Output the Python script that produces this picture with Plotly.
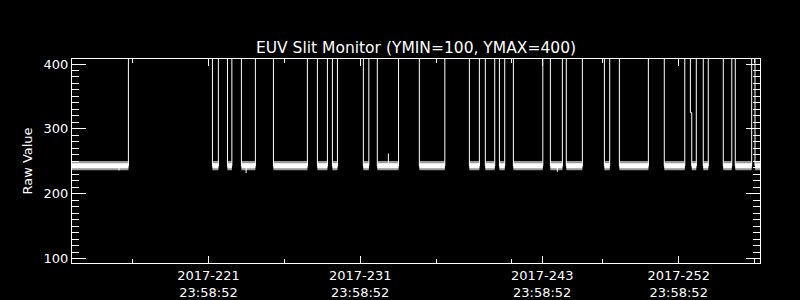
import plotly.graph_objects as go

# ---------------- data (day-of-year 2017) ----------------
# periods where the monitor reads the nominal (in-range) value
low_start = [212.00, 221.26, 222.25, 223.17, 225.28, 228.18, 229.17, 231.21, 232.13,
             234.90, 238.20, 239.25, 240.18, 241.10, 243.54, 244.59, 247.10, 248.09,
             251.05, 252.86, 253.62, 254.94, 255.73, 257.03]
low_end = [215.72, 221.65, 222.54, 224.09, 227.52, 228.84, 229.50, 231.57, 233.53,
           236.58, 238.86, 239.87, 240.53, 243.04, 244.33, 245.65, 247.45, 250.00,
           252.40, 253.16, 253.95, 255.50, 256.81, 257.36]
level_value = 243          # typical in-range raw value
sat_value = 1000           # off-scale (above YMAX) raw value
core_lo, core_hi = 239.5, 247   # dense noise band
fuzz_lo, fuzz_hi = 236.5, 250.5 # outer noise excursions
# intermediate reading on one transition
step_days = [252.77, 252.86]
step_vals = [325, 325]
# isolated spikes
spike_days = [223.48, 232.86, 215.1, 244.0]
spike_vals = [232, 262, 236, 234]

tick_days = [221, 231, 243, 252]
tick_text = ["2017-221<br>23:58:52", "2017-231<br>23:58:52",
             "2017-243<br>23:58:52", "2017-252<br>23:58:52"]
minor_days = [216, 226, 236, 241, 247, 257]

# ---------------- build traces ----------------
xs, ys = [], []
n = len(low_start)
for i, (s, e) in enumerate(zip(low_start, low_end)):
    if i > 0:
        if abs(s - step_days[1]) < 1e-6:
            xs += [step_days[0], step_days[0], step_days[1]]
            ys += [sat_value, step_vals[0], step_vals[1]]
        else:
            xs.append(s)
            ys.append(sat_value)
    xs += [s, e]
    ys += [level_value, level_value]
    if i < n - 1:
        xs.append(e)
        ys.append(sat_value)

def band(lo, hi):
    bx, by = [], []
    for s, e in zip(low_start, low_end):
        bx += [s, e, e, s, s, None]
        by += [lo, lo, hi, hi, lo, None]
    return bx, by

fx, fy = band(fuzz_lo, fuzz_hi)
cx, cy = band(core_lo, core_hi)

sx, sy = [], []
for d, v in zip(spike_days, spike_vals):
    sx += [d, d, None]
    sy += [level_value, v, None]

fig = go.Figure()
fig.add_trace(go.Scatter(x=fx, y=fy, mode="lines", fill="toself",
                         fillcolor="rgba(255,255,255,0.6)", line=dict(width=0),
                         hoverinfo="skip", showlegend=False))
fig.add_trace(go.Scatter(x=cx, y=cy, mode="lines", fill="toself",
                         fillcolor="white", line=dict(width=0),
                         hoverinfo="skip", showlegend=False))
fig.add_trace(go.Scatter(x=sx, y=sy, mode="lines", line=dict(color="white", width=1),
                         showlegend=False))
fig.add_trace(go.Scatter(x=xs, y=ys, mode="lines", line=dict(color="white", width=1),
                         showlegend=False))

font = dict(family="DejaVu Sans", color="white", size=13)
fig.update_layout(
    width=800, height=300,
    margin=dict(l=72, r=40, t=59, b=37),
    paper_bgcolor="black", plot_bgcolor="black",
    font=font,
    title=dict(text="EUV Slit Monitor (YMIN=100, YMAX=400)",
               font=dict(family="DejaVu Sans", color="white", size=15.5),
               x=0.5, xref="paper", xanchor="center",
               y=1 - 48 / 300, yref="container", yanchor="middle"),
    showlegend=False,
)
fig.update_xaxes(
    range=[212.0, 257.36], showgrid=False, zeroline=False, automargin=False,
    showline=True, linecolor="white", linewidth=1, mirror="ticks",
    ticks="inside", ticklen=7, tickcolor="white", tickwidth=1,
    tickmode="array", tickvals=tick_days, ticktext=tick_text,
    tickfont=font,
    minor=dict(tickmode="array", tickvals=minor_days, ticks="inside",
               ticklen=4, tickcolor="white", tickwidth=1, showgrid=False),
)
fig.update_yaxes(
    range=[93.5, 407.7], showgrid=False, zeroline=False, automargin=False,
    showline=True, linecolor="white", linewidth=1, mirror="ticks",
    ticks="inside", ticklen=14, tickcolor="white", tickwidth=1,
    tickmode="array", tickvals=[100, 200, 300, 400],
    tickfont=font,
    minor=dict(dtick=10, tick0=100, ticks="inside", ticklen=7,
               tickcolor="white", tickwidth=1, showgrid=False),
    title=dict(text="Raw Value", font=font, standoff=8),
)

fig.write_html("out.html")
